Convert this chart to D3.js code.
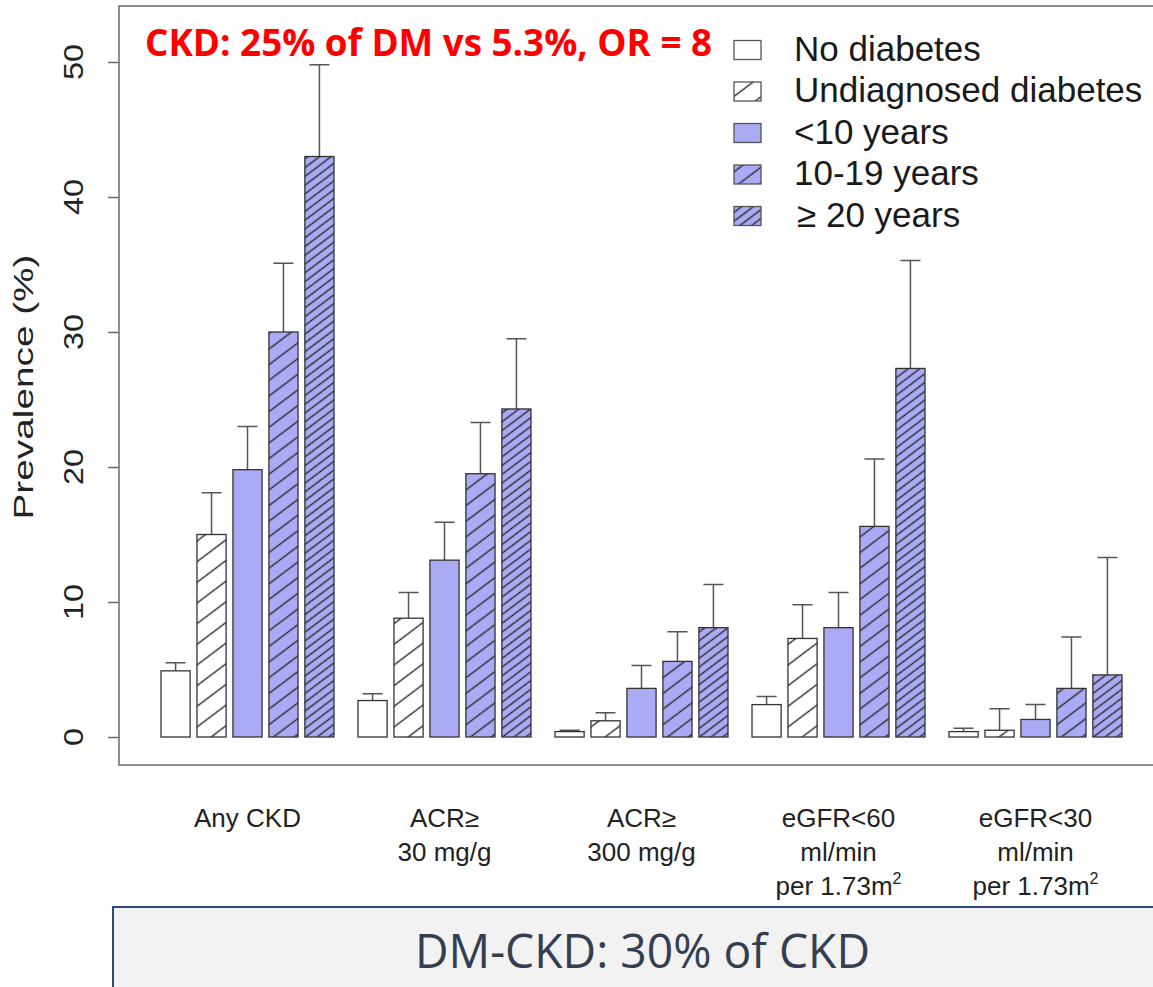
<!DOCTYPE html>
<html lang="en">
<head>
<meta charset="UTF-8">
<title>CKD prevalence by diabetes status</title>
<script src="https://d3js.org/d3.v7.min.js"></script>
<style>
 body { margin: 0; background: #fff; }
 svg { display: block; font-family: "Liberation Sans", Arial, sans-serif; }
 .bar { stroke: #333; stroke-width: 1.3px; }
 .err { stroke: #555; stroke-width: 1.5px; fill: none; }
 .frame { stroke: #6a6a6a; stroke-width: 1.5px; fill: none; }
</style>
</head>
<body>
<div id="chart"></div>
<script>
// categories (x groups), each label split into lines
const categories = ["Any CKD", "ACR≥ 30", "ACR≥ 300", "eGFR<60", "eGFR<30"];
const categoryLines = [
  ["Any CKD"],
  ["ACR≥", "30 mg/g"],
  ["ACR≥", "300 mg/g"],
  ["eGFR<60", "ml/min", "per 1.73m|2"],
  ["eGFR<30", "ml/min", "per 1.73m|2"]
];
const seriesNames = ["No diabetes", "Undiagnosed diabetes", "<10 years", "10-19 years", "\u2265 20 years"];

// prevalence (%) per series, one value per category
const noDiabetes   = [4.9, 2.7, 0.4, 2.4, 0.4];
const undiagnosed  = [15.0, 8.8, 1.2, 7.3, 0.5];
const under10      = [19.8, 13.1, 3.6, 8.1, 1.3];
const from10to19   = [30.0, 19.5, 5.6, 15.6, 3.6];
const over20       = [43.0, 24.3, 8.1, 27.3, 4.6];

// upper confidence limits
const noDiabetesHi  = [5.5, 3.2, 0.5, 3.0, 0.65];
const undiagnosedHi = [18.1, 10.7, 1.8, 9.8, 2.1];
const under10Hi     = [23.0, 15.9, 5.3, 10.7, 2.4];
const from10to19Hi  = [35.1, 23.3, 7.8, 20.6, 7.4];
const over20Hi      = [49.8, 29.5, 11.3, 35.3, 13.3];

const yTicks = [0, 10, 20, 30, 40, 50];

const seriesValues = [noDiabetes, undiagnosed, under10, from10to19, over20];
const seriesUpper = [noDiabetesHi, undiagnosedHi, under10Hi, from10to19Hi, over20Hi];

const width = 1153, height = 987;
const svg = d3.select('#chart').append('svg')
  .attr('width', width)
  .attr('height', height);

// hatch patterns: fill colour + line spacing (0 = none)
const fills = ['#ffffff', '#ffffff', '#aaaaf5', '#aaaaf5', '#aaaaf5'];
const hatch = [0, 16.5, 0, 12.5, 7];
const defs = svg.append('defs');
seriesNames.forEach((s, i) => {
  if (!hatch[i]) return;
  const p = defs.append('pattern')
    .attr('id', 'hatch' + i)
    .attr('patternUnits', 'userSpaceOnUse')
    .attr('width', 20)
    .attr('height', hatch[i])
    .attr('patternTransform', 'rotate(-37)');
  p.append('rect').attr('width', 20).attr('height', hatch[i]).attr('fill', fills[i]);
  p.append('line')
    .attr('x1', 0).attr('x2', 20)
    .attr('y1', hatch[i] / 2).attr('y2', hatch[i] / 2)
    .attr('stroke', '#2a2a2a').attr('stroke-width', 1.4);
});
const fillOf = i => hatch[i] ? `url(#hatch${i})` : fills[i];

// scales
const x0 = d3.scaleBand()
  .domain(categories)
  .range([161, 161 + 5 * 197 - 24])
  .paddingInner(24 / 197)
  .paddingOuter(0);
const x1 = d3.scaleBand()
  .domain(d3.range(seriesNames.length))
  .range([0, x0.bandwidth()])
  .paddingInner(0.19)
  .paddingOuter(0);
const y = d3.scaleLinear().domain([0, 50]).range([737, 62]);

// plot frame (cut off at right edge)
svg.append('path').attr('class', 'frame')
  .attr('d', `M${width + 5},6 H119 V765 H${width + 5}`);

// y axis
const yAxis = svg.append('g')
  .attr('transform', 'translate(119,0)')
  .call(d3.axisLeft(y).tickValues(yTicks).tickSize(11).tickFormat(''));
yAxis.select('.domain').remove();
yAxis.selectAll('.tick line').attr('stroke', '#6a6a6a').attr('stroke-width', 1.5);

svg.append('g').selectAll('text')
  .data(yTicks)
  .join('text')
  .attr('transform', d => `translate(83,${y(d)}) rotate(-90)`)
  .attr('text-anchor', 'middle')
  .attr('font-size', 28)
  .attr('fill', '#222')
  .attr('textLength', d => 18 * String(d).length)
  .attr('lengthAdjust', 'spacingAndGlyphs')
  .text(d => d);

svg.append('text')
  .attr('transform', 'translate(33,387) rotate(-90)')
  .attr('text-anchor', 'middle')
  .attr('font-size', 28)
  .attr('fill', '#222')
  .attr('textLength', 265)
  .attr('lengthAdjust', 'spacingAndGlyphs')
  .text('Prevalence (%)');

// bars
const groups = svg.append('g').selectAll('g')
  .data(categories)
  .join('g')
  .attr('transform', d => `translate(${x0(d)},0)`);

groups.each(function (cat, ci) {
  const g = d3.select(this);
  const rows = seriesNames.map((s, si) => ({ si, v: seriesValues[si][ci], hi: seriesUpper[si][ci] }));
  g.selectAll('path.err')
    .data(rows)
    .join('path')
    .attr('class', 'err')
    .attr('d', d => {
      const cx = x1(d.si) + x1.bandwidth() / 2;
      return `M${cx},${y(d.v)} V${y(d.hi)} M${cx - 10},${y(d.hi)} H${cx + 10}`;
    });
  g.selectAll('rect.bar')
    .data(rows)
    .join('rect')
    .attr('class', 'bar')
    .attr('x', d => x1(d.si))
    .attr('width', x1.bandwidth())
    .attr('y', d => y(d.v))
    .attr('height', d => y(0) - y(d.v))
    .attr('fill', d => fillOf(d.si));
});

// category labels
categoryLines.forEach((lines, ci) => {
  const cx = x0(categories[ci]) + x0.bandwidth() / 2;
  lines.forEach((ln, li) => {
    const t = svg.append('text')
      .attr('x', cx)
      .attr('y', 827 + li * 34)
      .attr('text-anchor', 'middle')
      .attr('font-size', 26)
      .attr('fill', '#222');
    const parts = ln.split('|');
    t.append('tspan').text(parts[0]);
    if (parts[1]) {
      t.append('tspan').attr('font-size', 16).attr('dy', -11).text(parts[1]);
    }
  });
});

// legend
const legend = svg.append('g').selectAll('g')
  .data(seriesNames)
  .join('g')
  .attr('transform', (d, i) => `translate(0,${60.5 + i * 41.5})`);
legend.append('rect')
  .attr('x', 734).attr('y', -20)
  .attr('width', 27).attr('height', 19)
  .attr('fill', (d, i) => fillOf(i))
  .attr('stroke', '#555').attr('stroke-width', 1.3);
legend.append('text')
  .attr('x', (d, i) => i === 4 ? 797 : 794)
  .attr('font-size', 35)
  .attr('fill', '#1a1a1a')
  .text(d => d);

// red annotation
svg.append('text')
  .attr('x', 145).attr('y', 56)
  .attr('font-family', '"Open Sans", "Noto Sans", sans-serif')
  .attr('font-weight', 'bold')
  .attr('font-size', 38)
  .attr('fill', '#ff0000')
  .attr('textLength', 567)
  .attr('lengthAdjust', 'spacingAndGlyphs')
  .text('CKD: 25% of DM vs 5.3%, OR = 8');

// bottom caption box
svg.append('rect')
  .attr('x', 113).attr('y', 907)
  .attr('width', 1100).attr('height', 120)
  .attr('fill', '#f2f2f2')
  .attr('stroke', '#2e4a70').attr('stroke-width', 2);
svg.append('text')
  .attr('x', 415).attr('y', 968)
  .attr('font-family', '"Open Sans", "Noto Sans", sans-serif')
  .attr('font-size', 48)
  .attr('fill', '#333f50')
  .attr('textLength', 455)
  .attr('lengthAdjust', 'spacingAndGlyphs')
  .text('DM-CKD: 30% of CKD');
</script>
</body>
</html>
